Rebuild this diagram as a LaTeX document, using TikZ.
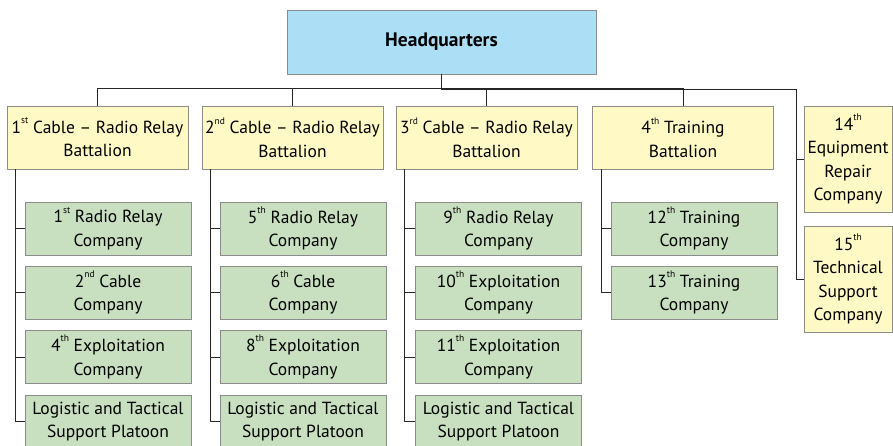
\documentclass[tikz,border=0pt]{standalone}
\usepackage{fontspec}
\setmainfont{PT Sans}
\definecolor{hqblue}{RGB}{172,223,246}
\definecolor{batyellow}{RGB}{255,249,198}
\definecolor{compgreen}{RGB}{200,224,191}
\definecolor{boxline}{RGB}{140,140,140}
\newcommand{\ord}[2]{#1\raisebox{0.55em}{\fontsize{9.5}{9.5}\selectfont #2}}
\begin{document}
\begin{tikzpicture}[x=1pt, y=-1pt]
    % Define styles
    \tikzset{
        hqbox/.style={
            draw=boxline,
            fill=hqblue,
            minimum width=309pt,
            minimum height=64pt,
            font=\fontsize{19.5}{23.5}\selectfont\bfseries
        },
        batbox/.style={
            draw=boxline,
            fill=batyellow,
            minimum width=181pt,
            minimum height=63pt,
            align=center,
            inner sep=0pt,
            font=\fontsize{17.5}{23.5}\selectfont
        },
        compbox/.style={
            draw=boxline,
            fill=compgreen,
            minimum width=166pt,
            minimum height=53pt,
            align=center,
            inner sep=0pt,
            font=\fontsize{17.5}{23.5}\selectfont
        },
        sidebox/.style={
            draw=boxline,
            fill=batyellow,
            minimum width=88pt,
            minimum height=106pt,
            align=center,
            inner sep=0pt,
            font=\fontsize{17.5}{23.5}\selectfont
        },
        link/.style={
            draw=black!85,
            line width=0.8pt
        }
    }

    \clip (0,0) rectangle (893,445);

    % Headquarters
    \node[hqbox] (hq) at (441.5,42) {Headquarters};

    % Battalions
    \node[batbox] (bat1) at (97.5,137.5) {\ord{1}{st} Cable -- Radio Relay\\Battalion};
    \node[batbox] (bat2) at (292.5,137.5) {\ord{2}{nd} Cable -- Radio Relay\\Battalion};
    \node[batbox] (bat3) at (486.5,137.5) {\ord{3}{rd} Cable -- Radio Relay\\Battalion};
    \node[batbox] (bat4) at (683,137.5) {\ord{4}{th} Training\\Battalion};

    % Independent companies
    \node[sidebox] (rep14) at (848,159) {\ord{14}{th}\\Equipment\\Repair\\Company};
    \node[sidebox] (sup15) at (848,279) {\ord{15}{th}\\Technical\\Support\\Company};
    \coordinate (rbus) at (796,89);

    % Companies of the 1st battalion
    \node[compbox] (c1a) at (108,228.5) {\ord{1}{st} Radio Relay\\Company};
    \node[compbox] (c1b) at (108,292.5) {\ord{2}{nd} Cable\\Company};
    \node[compbox] (c1c) at (108,357) {\ord{4}{th} Exploitation\\Company};
    \node[compbox] (c1d) at (108,421.5) {Logistic and Tactical\\Support Platoon};

    % Companies of the 2nd battalion
    \node[compbox] (c2a) at (303,228.5) {\ord{5}{th} Radio Relay\\Company};
    \node[compbox] (c2b) at (303,292.5) {\ord{6}{th} Cable\\Company};
    \node[compbox] (c2c) at (303,357) {\ord{8}{th} Exploitation\\Company};
    \node[compbox] (c2d) at (303,421.5) {Logistic and Tactical\\Support Platoon};

    % Companies of the 3rd battalion
    \node[compbox] (c3a) at (498.5,228.5) {\ord{9}{th} Radio Relay\\Company};
    \node[compbox] (c3b) at (498.5,292.5) {\ord{10}{th} Exploitation\\Company};
    \node[compbox] (c3c) at (498.5,357) {\ord{11}{th} Exploitation\\Company};
    \node[compbox] (c3d) at (498.5,421.5) {Logistic and Tactical\\Support Platoon};

    % Companies of the training battalion
    \node[compbox] (c4a) at (694,228.5) {\ord{12}{th} Training\\Company};
    \node[compbox] (c4b) at (694,292.5) {\ord{13}{th} Training\\Company};

    % Connect headquarters to battalions
    \foreach \b in {bat1,bat2,bat3,bat4}
        \draw[link] (hq.south) |- ([yshift=17pt]\b.north) -- (\b.north);
    \draw[link] (hq.south) |- (rbus) |- (sup15.west);
    \draw[link] (rbus) |- (rep14.west);

    % Connect battalions to companies
    \foreach \b/\c in {bat1/c1a, bat1/c1b, bat1/c1c, bat1/c1d,
                       bat2/c2a, bat2/c2b, bat2/c2c, bat2/c2d,
                       bat3/c3a, bat3/c3b, bat3/c3c, bat3/c3d,
                       bat4/c4a, bat4/c4b}
        \draw[link] ([xshift=9pt]\b.south west) |- (\c.west);
\end{tikzpicture}
\end{document}
